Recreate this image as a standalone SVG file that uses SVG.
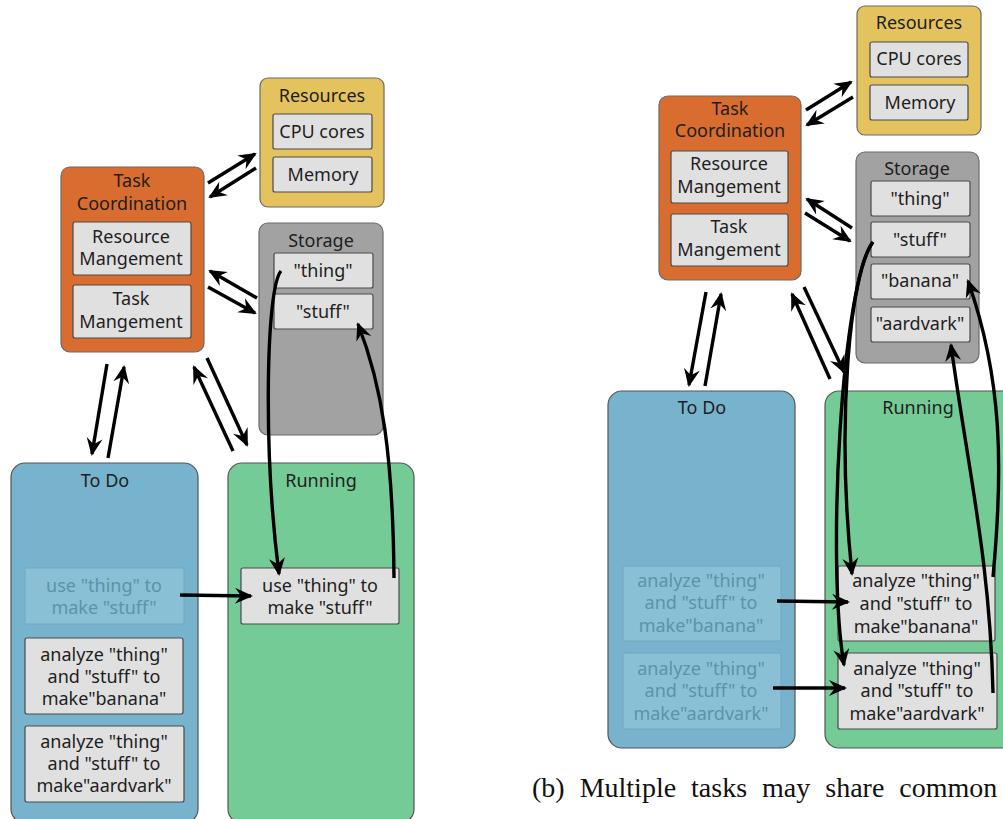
<svg xmlns="http://www.w3.org/2000/svg" width="1003" height="819" viewBox="0 0 1003 819">
  <style>
    .lbl { font-family: "Noto Sans", "Open Sans", sans-serif; font-size: 18px; fill: #1e1e1e; text-anchor: middle; }
    .faint { fill: #5b93aa; }
    .res { fill: #e4c35f; stroke: #6a6a6a; stroke-width: 1.2; }
    .coord { fill: #d96d2f; stroke: #6a6a6a; stroke-width: 1.2; }
    .store { fill: #a2a2a2; stroke: #6a6a6a; stroke-width: 1.2; }
    .todo { fill: #77b3cc; stroke: #555; stroke-width: 1.2; }
    .run { fill: #74cb96; stroke: #555; stroke-width: 1.2; }
    .item { fill: #e0e0e0; stroke: #4a4a4a; stroke-width: 1.2; }
    .ghost { fill: #8ac0d6; stroke: #6fa9c0; stroke-width: 1; }
    .wire { fill: none; stroke: #000; stroke-width: 3.4; marker-end: url(#head); }
    .cap { font-family: "Liberation Serif", "Times New Roman", serif; font-size: 28px; fill: #111; }
  </style>
  <defs>
    <marker id="head" markerUnits="userSpaceOnUse" viewBox="-20 -9 22 18" refX="-2" refY="0" markerWidth="22" markerHeight="18" orient="auto">
      <path d="M0,0 L-18,-8 L-12,0 L-18,8 Z" fill="#000"/>
    </marker>
  </defs>
  <rect width="1003" height="819" fill="#fff"/>

  <!-- left panel: single task -->
  <g id="a-resources">
    <rect class="res" x="260" y="78" width="124" height="129" rx="8"/>
    <text class="lbl" x="322" y="102">Resources</text>
    <rect class="item" x="273" y="114" width="99" height="35" rx="2"/>
    <text class="lbl" x="322" y="138">CPU cores</text>
    <rect class="item" x="273" y="157" width="99" height="35" rx="2"/>
    <text class="lbl" x="323" y="181">Memory</text>
  </g>
  <g id="a-coordination">
    <rect class="coord" x="61" y="167" width="143" height="185" rx="9"/>
    <text class="lbl" x="132" y="187">Task</text>
    <text class="lbl" x="132" y="210">Coordination</text>
    <rect class="item" x="73" y="222" width="118" height="53" rx="2"/>
    <text class="lbl" x="131" y="243">Resource</text>
    <text class="lbl" x="131" y="265">Mangement</text>
    <rect class="item" x="73" y="285" width="118" height="53" rx="2"/>
    <text class="lbl" x="131" y="305">Task</text>
    <text class="lbl" x="131" y="328">Mangement</text>
  </g>
  <g id="a-storage">
    <rect class="store" x="259" y="223" width="124" height="212" rx="9"/>
    <text class="lbl" x="321" y="247">Storage</text>
    <rect class="item" x="274" y="253" width="99" height="35" rx="2"/>
    <text class="lbl" x="323" y="277">"thing"</text>
    <rect class="item" x="274" y="294" width="99" height="35" rx="2"/>
    <text class="lbl" x="323" y="318">"stuff"</text>
  </g>
  <g id="a-todo">
    <rect class="todo" x="11" y="463" width="187" height="360" rx="14"/>
    <text class="lbl" x="105" y="487">To Do</text>
    <rect class="ghost" x="25" y="568" width="159" height="56" rx="2"/>
    <text class="lbl faint" x="104" y="592">use "thing" to</text>
    <text class="lbl faint" x="104" y="614">make "stuff"</text>
    <rect class="item" x="25" y="638" width="158" height="76" rx="2"/>
    <text class="lbl" x="104" y="661">analyze "thing"</text>
    <text class="lbl" x="104" y="683">and "stuff" to</text>
    <text class="lbl" x="104" y="705">make"banana"</text>
    <rect class="item" x="25" y="726" width="159" height="76" rx="2"/>
    <text class="lbl" x="104" y="748">analyze "thing"</text>
    <text class="lbl" x="104" y="770">and "stuff" to</text>
    <text class="lbl" x="104" y="792">make"aardvark"</text>
  </g>
  <g id="a-running">
    <rect class="run" x="228" y="463" width="186" height="360" rx="14"/>
    <text class="lbl" x="321" y="487">Running</text>
    <rect class="item" x="241" y="568" width="158" height="56" rx="2"/>
    <text class="lbl" x="320" y="592">use "thing" to</text>
    <text class="lbl" x="320" y="614">make "stuff"</text>
  </g>

  <!-- right panel: shared inputs -->
  <g id="b-resources">
    <rect class="res" x="857" y="6" width="124" height="129" rx="8"/>
    <text class="lbl" x="919" y="29">Resources</text>
    <rect class="item" x="870" y="42" width="98" height="35" rx="2"/>
    <text class="lbl" x="919" y="65">CPU cores</text>
    <rect class="item" x="870" y="85" width="98" height="35" rx="2"/>
    <text class="lbl" x="920" y="109">Memory</text>
  </g>
  <g id="b-coordination">
    <rect class="coord" x="659" y="96" width="142" height="184" rx="9"/>
    <text class="lbl" x="730" y="115">Task</text>
    <text class="lbl" x="730" y="137">Coordination</text>
    <rect class="item" x="671" y="151" width="117" height="52" rx="2"/>
    <text class="lbl" x="729" y="170">Resource</text>
    <text class="lbl" x="729" y="193">Mangement</text>
    <rect class="item" x="671" y="214" width="117" height="52" rx="2"/>
    <text class="lbl" x="729" y="233">Task</text>
    <text class="lbl" x="729" y="256">Mangement</text>
  </g>
  <g id="b-storage">
    <rect class="store" x="856" y="152" width="123" height="211" rx="9"/>
    <text class="lbl" x="917" y="175">Storage</text>
    <rect class="item" x="871" y="181" width="99" height="35" rx="2"/>
    <text class="lbl" x="920" y="205">"thing"</text>
    <rect class="item" x="871" y="222" width="99" height="35" rx="2"/>
    <text class="lbl" x="920" y="246">"stuff"</text>
    <rect class="item" x="871" y="264" width="99" height="35" rx="2"/>
    <text class="lbl" x="920" y="287">"banana"</text>
    <rect class="item" x="871" y="307" width="99" height="35" rx="2"/>
    <text class="lbl" x="920" y="330">"aardvark"</text>
  </g>
  <g id="b-todo">
    <rect class="todo" x="608" y="391" width="187" height="357" rx="14"/>
    <text class="lbl" x="702" y="414">To Do</text>
    <rect class="ghost" x="623" y="566" width="158" height="75" rx="2"/>
    <text class="lbl faint" x="701" y="587">analyze "thing"</text>
    <text class="lbl faint" x="701" y="609">and "stuff" to</text>
    <text class="lbl faint" x="701" y="632">make"banana"</text>
    <rect class="ghost" x="623" y="653" width="158" height="76" rx="2"/>
    <text class="lbl faint" x="701" y="675">analyze "thing"</text>
    <text class="lbl faint" x="701" y="697">and "stuff" to</text>
    <text class="lbl faint" x="701" y="720">make"aardvark"</text>
  </g>
  <g id="b-running">
    <rect class="run" x="825" y="391" width="200" height="357" rx="14"/>
    <text class="lbl" x="918" y="414">Running</text>
    <rect class="item" x="838" y="566" width="157" height="75" rx="2"/>
    <text class="lbl" x="916" y="587">analyze "thing"</text>
    <text class="lbl" x="916" y="610">and "stuff" to</text>
    <text class="lbl" x="916" y="633">make"banana"</text>
    <rect class="item" x="838" y="653" width="159" height="76" rx="2"/>
    <text class="lbl" x="917" y="675">analyze "thing"</text>
    <text class="lbl" x="917" y="697">and "stuff" to</text>
    <text class="lbl" x="917" y="720">make"aardvark"</text>
  </g>

  <g id="connectors">
    <!-- left panel -->
    <path class="wire" d="M208,183 L255,154"/>
    <path class="wire" d="M256,168 L210,197"/>
    <path class="wire" d="M257,298 L210,271"/>
    <path class="wire" d="M208,287 L255,313"/>
    <path class="wire" d="M107,364 L92,454"/>
    <path class="wire" d="M108,458 L124,367"/>
    <path class="wire" d="M233,451 L194,367"/>
    <path class="wire" d="M207,358 L247,445"/>
    <path class="wire" d="M281,271 C266,288 263,450 279,574"/>
    <path class="wire" d="M394,578 C393,455 382,385 358,324"/>
    <path class="wire" d="M180,595 L251,596"/>
    <!-- right panel -->
    <path class="wire" d="M806,110 L851,82"/>
    <path class="wire" d="M853,97 L807,125"/>
    <path class="wire" d="M852,228 L807,199"/>
    <path class="wire" d="M805,213 L850,241"/>
    <path class="wire" d="M706,292 L689,385"/>
    <path class="wire" d="M705,386 L721,294"/>
    <path class="wire" d="M830,379 L792,294"/>
    <path class="wire" d="M804,287 L844,372"/>
    <path class="wire" d="M873,242 C850,272 836,420 852,574"/>
    <path class="wire" d="M873,242 C842,282 826,560 844,665"/>
    <path class="wire" d="M993,577 C1003,470 1003,380 968,281"/>
    <path class="wire" d="M993,693 C990,560 968,470 951,345"/>
    <path class="wire" d="M777,601 L848,602"/>
    <path class="wire" d="M773,688 L845,688"/>
  </g>

  <text class="cap" x="532" y="797" word-spacing="8">(b) Multiple tasks may share common</text>
</svg>
